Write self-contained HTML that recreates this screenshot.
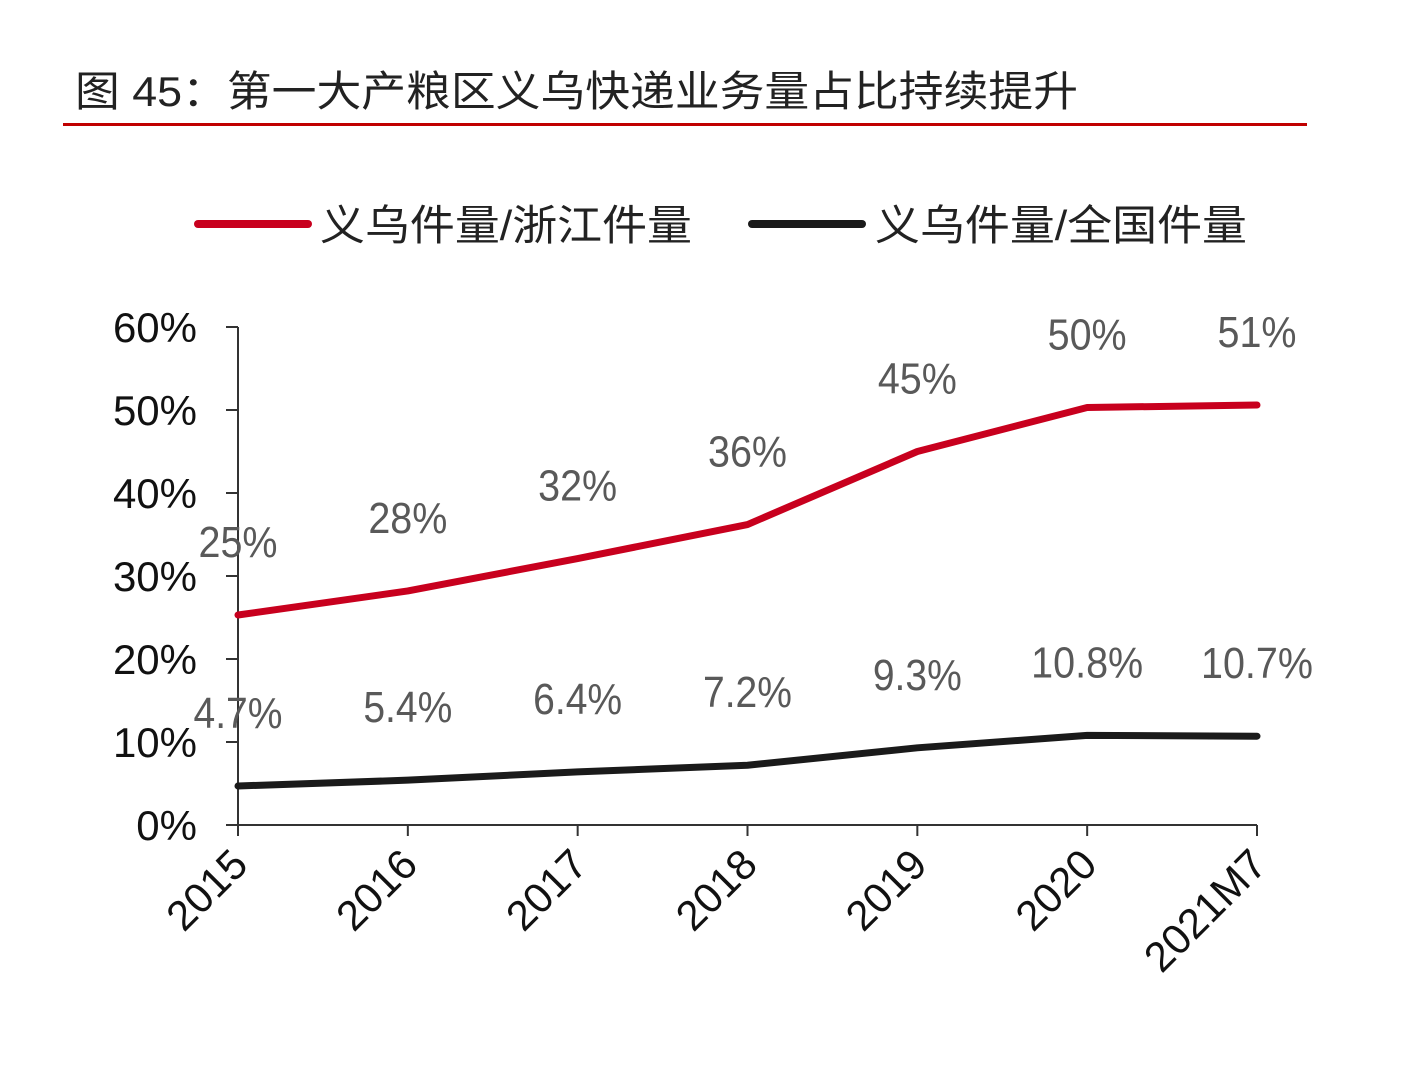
<!DOCTYPE html>
<html><head><meta charset="utf-8"><style>
body{margin:0;background:#fff;}
svg{display:block;font-family:"Liberation Sans","Noto Sans CJK SC",sans-serif;}
</style></head><body>
<svg width="1410" height="1084" viewBox="0 0 1410 1084">
<text x="75" y="106" font-size="42" fill="#222" textLength="1003" lengthAdjust="spacingAndGlyphs">图 45：第一大产粮区义乌快递业务量占比持续提升</text>
<rect x="63" y="123" width="1244" height="3" fill="#c00000"/>
<g>
<line x1="198" y1="224" x2="308" y2="224" stroke="#c8001e" stroke-width="8" stroke-linecap="round"/>
<text x="320" y="240" font-size="42" fill="#222" textLength="372" lengthAdjust="spacingAndGlyphs">义乌件量/浙江件量</text>
<line x1="752" y1="224" x2="862" y2="224" stroke="#1a1a1a" stroke-width="8" stroke-linecap="round"/>
<text x="875" y="240" font-size="42" fill="#222" textLength="372" lengthAdjust="spacingAndGlyphs">义乌件量/全国件量</text>
</g>
<g id="axes"></g>
<g id="marks"></g>
</svg>
<script>
const categories=["2015","2016","2017","2018","2019","2020","2021M7"];
const zhejiangShare=[25.3,28.2,32.1,36.2,45.0,50.3,50.6];
const zhejiangLabels=["25%","28%","32%","36%","45%","50%","51%"];
const nationalShare=[4.7,5.4,6.4,7.2,9.3,10.8,10.7];
const nationalLabels=["4.7%","5.4%","6.4%","7.2%","9.3%","10.8%","10.7%"];
const yTicks=[0,10,20,30,40,50,60];
const NS="http://www.w3.org/2000/svg";
const x0=238,x1=1257,yb=825,yt=327,ymax=60;
const xs=i=>x0+(x1-x0)*i/(categories.length-1);
const ys=v=>yb-(yb-yt)*v/ymax;
function mk(tag,attrs,parent){const e=document.createElementNS(NS,tag);for(const k in attrs)e.setAttribute(k,attrs[k]);parent.appendChild(e);return e;}
function labW(s){let w=0;for(const ch of s){w+=ch==='.'?10:(ch==='%'?33:23);}return w;}
const axes=document.getElementById('axes'),marks=document.getElementById('marks');
let a=mk('line',{x1:x0,y1:yt,x2:x0,y2:yb,stroke:'#333','stroke-width':2},axes);


a=mk('line',{x1:x0,y1:yb,x2:x1,y2:yb,stroke:'#333','stroke-width':2},axes);


yTicks.forEach(v=>{
 const t=mk('line',{x1:x0-12,y1:ys(v),x2:x0,y2:ys(v),stroke:'#333','stroke-width':2},axes);
 
 
 const l=mk('text',{x:197,y:ys(v)+15,'font-size':42,fill:'#111','text-anchor':'end'},axes);
 l.textContent=v+'%';
 
 
});
categories.forEach((c,i)=>{
 const t=mk('line',{x1:xs(i),y1:yb,x2:xs(i),y2:yb+11,stroke:'#333','stroke-width':2},axes);
 
 
 const ax=xs(i)+12,ay=yb+42;
 const l=mk('text',{x:ax,y:ay,'font-size':42,fill:'#111','text-anchor':'end',transform:`rotate(-45 ${ax} ${ay})`},axes);
 l.textContent=c;
 
 
});
function series(vals,labels,color,name){
 const p=mk('polyline',{points:vals.map((v,i)=>xs(i)+','+ys(v)).join(' '),fill:'none',stroke:color,'stroke-width':7,'stroke-linejoin':'round','stroke-linecap':'round'},marks);
 
 
 vals.forEach((v,i)=>{
  const l=mk('text',{x:xs(i),y:ys(v)-58,'font-size':44,fill:'#595959','text-anchor':'middle',textLength:labW(labels[i]),lengthAdjust:'spacingAndGlyphs'},marks);
  l.textContent=labels[i];
  
  
 });
}
series(zhejiangShare,zhejiangLabels,'#c8001e','zhejiang-share');
series(nationalShare,nationalLabels,'#1a1a1a','national-share');
</script>
</body></html>
